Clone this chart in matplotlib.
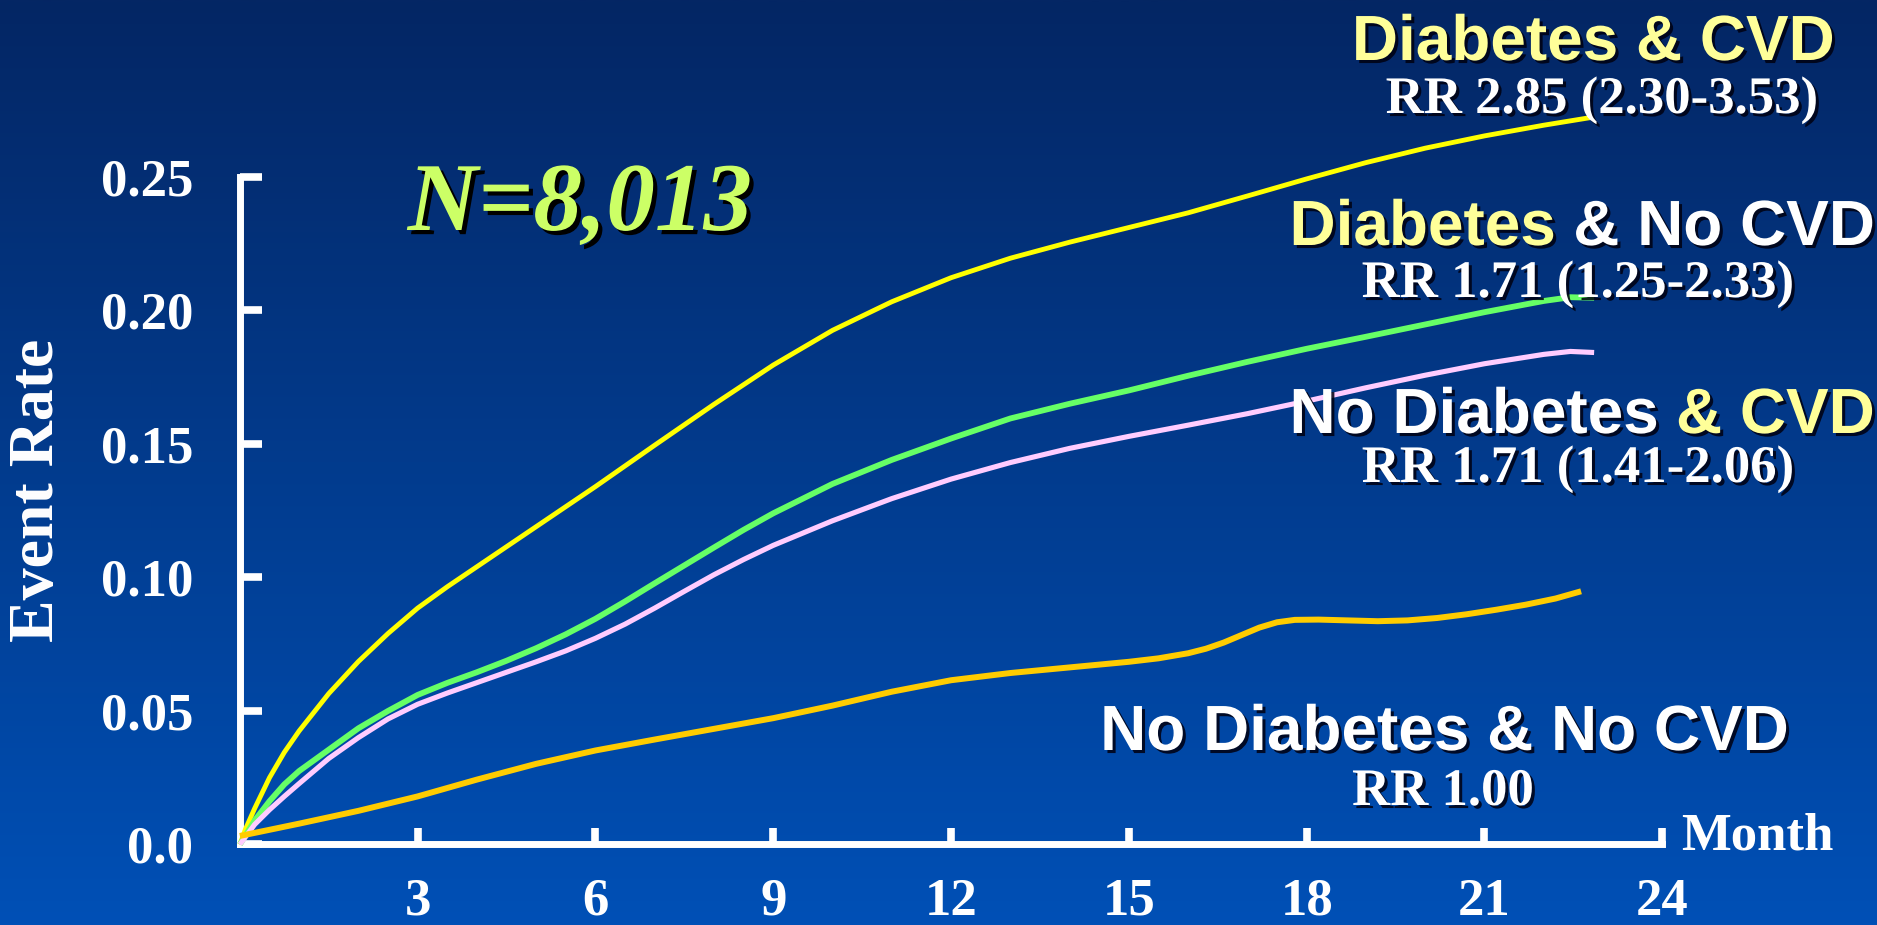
import numpy as np
import matplotlib
matplotlib.use("Agg")
import matplotlib.pyplot as plt
import matplotlib.patheffects as pe
from matplotlib.text import Annotation

W, H, DPI = 1877, 925, 100

# ---- cumulative event rate by month for each group ----
months_dm_cvd = [0, 0.1, 0.25, 0.5, 0.75, 1, 1.5, 2, 2.5, 3, 3.5, 4, 5, 6, 7, 8, 9,
                 10, 11, 12, 13, 14, 15, 16, 17, 18, 19, 20, 21, 22, 22.8]
rate_dm_cvd = [0, 0.006, 0.0135, 0.025, 0.0345, 0.0425, 0.0565, 0.0685, 0.079,
               0.0885, 0.0965, 0.104, 0.119, 0.134, 0.1495, 0.1648, 0.1795, 0.1925,
               0.2032, 0.2122, 0.2195, 0.2255, 0.231, 0.2365, 0.2428, 0.2492,
               0.2553, 0.2607, 0.2653, 0.2693, 0.2722]

months_dm = [0, 0.25, 0.5, 0.75, 1, 1.5, 2, 2.5, 3, 3.5, 4, 4.5, 5, 5.5, 6, 6.5, 7,
             7.5, 8, 8.5, 9, 10, 11, 12, 13, 14, 15, 16, 17, 18, 19, 20, 21, 22,
             22.45, 22.85]
rate_dm = [0, 0.009, 0.0162, 0.0225, 0.0275, 0.0355, 0.0435, 0.050, 0.056, 0.0605,
           0.0645, 0.0688, 0.0735, 0.0787, 0.0845, 0.091, 0.0978, 0.1045, 0.1112,
           0.1178, 0.124, 0.135, 0.144, 0.152, 0.1595, 0.165, 0.170, 0.1755,
           0.1807, 0.1856, 0.1901, 0.1947, 0.1993, 0.2035, 0.2049, 0.2047]

months_cvd = [0, 0.25, 0.5, 0.75, 1, 1.5, 2, 2.5, 3, 3.5, 4, 4.5, 5, 5.5, 6, 6.5, 7,
              7.5, 8, 8.5, 9, 10, 11, 12, 13, 14, 15, 16, 17, 18, 19, 20, 21, 22,
              22.45, 22.85]
rate_cvd = [0, 0.0075, 0.013, 0.018, 0.0228, 0.0322, 0.040, 0.047, 0.0525, 0.0567,
            0.0606, 0.0645, 0.0684, 0.0725, 0.0772, 0.0825, 0.0885, 0.0948, 0.101,
            0.1067, 0.112, 0.1212, 0.1295, 0.1368, 0.143, 0.1483, 0.1528, 0.157,
            0.1613, 0.166, 0.171, 0.1757, 0.180, 0.1835, 0.1846, 0.1842]

months_none = [0, 1, 2, 3, 4, 5, 6, 7, 8, 9, 10, 11, 12, 13, 14, 15, 15.5, 16.0,
               16.3, 16.6, 16.9, 17.2, 17.5, 17.8, 18.2, 18.7, 19.2, 19.7, 20.2,
               20.7, 21.2, 21.7, 22.2, 22.63]
rate_none = [0.0032, 0.0078, 0.0126, 0.018, 0.0243, 0.0302, 0.0352, 0.0393, 0.0433,
             0.0473, 0.052, 0.0572, 0.0615, 0.0642, 0.0663, 0.0684, 0.0697, 0.0716,
             0.0733, 0.0756, 0.0784, 0.0812, 0.0832, 0.0841, 0.0842, 0.0839,
             0.0836, 0.0839, 0.0848, 0.0862, 0.0879, 0.0898, 0.0921, 0.0948]

x_ticks = [3, 6, 9, 12, 15, 18, 21, 24]
x_ticklabels = ["3", "6", "9", "12", "15", "18", "21", "24"]
y_ticks = [0.0, 0.05, 0.10, 0.15, 0.20, 0.25]
y_ticklabels = ["0.0", "0.05", "0.10", "0.15", "0.20", "0.25"]

SERIF = "Liberation Serif"
SANS = "Liberation Sans"
PALE_YELLOW = "#FFFF99"

fig = plt.figure(figsize=(W / DPI, H / DPI), dpi=DPI)


def fx(px):
    return px / W


def fy(py):
    return 1 - py / H


# background: vertical blue gradient
bg = fig.add_axes([0, 0, 1, 1], zorder=-10)
top = np.array([4, 38, 100]) / 255
bot = np.array([0, 80, 182]) / 255
t = np.linspace(0, 1, 256)[:, None, None]
grad = top * (1 - t) + bot * t
bg.imshow(grad, aspect="auto", extent=[0, 1, 0, 1], interpolation="bilinear")
bg.set_axis_off()

# main plot area
ax = fig.add_axes([0.11199, 0.05816, 0.86835, 0.92400])
ax.set_facecolor("none")
ax.set_xlim(-0.5, 27)
ax.set_ylim(-0.01, 0.31)

line_kw = dict(solid_joinstyle="round", solid_capstyle="butt")
ax.plot(months_dm_cvd, rate_dm_cvd, color="#FFFF00", lw=3.5, zorder=3, **line_kw)
ax.plot(months_dm, rate_dm, color="#66FF66", lw=4.2, zorder=4, **line_kw)
ax.plot(months_cvd, rate_cvd, color="#FFCCFF", lw=3.7, zorder=5, **line_kw)
ax.plot(months_none, rate_none, color="#FFCC00", lw=4.3, zorder=6, **line_kw)

for side in ("top", "right"):
    ax.spines[side].set_visible(False)
for side in ("left", "bottom"):
    sp = ax.spines[side]
    sp.set_color("white")
    sp.set_linewidth(5)
    sp.set_capstyle("projecting")
    sp.set_position(("data", 0))
ax.spines["left"].set_bounds(0, 0.25)
ax.spines["bottom"].set_bounds(0, 24)

ax.set_xticks(x_ticks)
ax.set_xticklabels(x_ticklabels)
ax.set_yticks(y_ticks)
ax.set_yticklabels(y_ticklabels)
ax.tick_params(axis="x", direction="in", length=11.5, width=5.5, color="white",
               pad=24, labelcolor="white", labelsize=38)
ax.tick_params(axis="y", direction="in", length=16, width=5.5, color="white",
               pad=33.5, labelcolor="white", labelsize=38)
for lab in ax.get_xticklabels() + ax.get_yticklabels():
    lab.set_fontfamily(SERIF)
    lab.set_fontweight("bold")

# axis titles
fig.text(fx(38), fy(490), "Event Rate", rotation=90, ha="center", va="center",
         color="white", fontsize=46, fontfamily=SERIF, fontweight="bold")
fig.text(fx(1757), fy(850), "Month", ha="center", va="baseline",
         color="white", fontsize=38, fontfamily=SERIF, fontweight="bold")

# sample size
fig.text(fx(580), fy(230), "N=8,013", ha="center", va="baseline",
         color="#CCFF66", fontsize=70, fontfamily=SERIF, fontweight="bold",
         fontstyle="italic",
         path_effects=[pe.withSimplePatchShadow(offset=(3, -3),
                                                shadow_rgbFace="black", alpha=1.0)])

shadow = [pe.withSimplePatchShadow(offset=(2.2, -2.2), shadow_rgbFace="#000010",
                                   alpha=0.85)]
group_kw = dict(fontsize=46, fontfamily=SANS, fontweight="bold",
                path_effects=shadow, zorder=10)
renderer = fig.canvas.get_renderer()


def group_label(x, y, parts):
    """Centred sans-serif group name built from (text, colour) pieces."""
    full = "".join(p for p, _ in parts)
    probe = fig.text(fx(x), fy(y), full, ha="center", va="baseline", **group_kw)
    left = probe.get_window_extent(renderer).x0 / W
    probe.remove()
    prev = fig.text(left, fy(y), parts[0][0], ha="left", va="baseline",
                    color=parts[0][1], **group_kw)
    for text, color in parts[1:]:
        prev = fig.add_artist(Annotation(text, xy=(1, 0), xycoords=prev,
                                         ha="left", va="bottom", color=color,
                                         **group_kw))


def rr_label(x, y, text):
    fig.text(fx(x), fy(y), text, ha="center", va="baseline", color="white",
             fontsize=38, fontfamily=SERIF, fontweight="bold",
             path_effects=shadow, zorder=10)


group_label(1593, 60, [("Diabetes & CVD", PALE_YELLOW)])
rr_label(1602, 113, "RR 2.85 (2.30-3.53)")
group_label(1582, 245, [("Diabetes", PALE_YELLOW), (" & No CVD", "white")])
rr_label(1578, 297, "RR 1.71 (1.25-2.33)")
group_label(1582, 433, [("No Diabetes ", "white"), ("& CVD", PALE_YELLOW)])
rr_label(1578, 482, "RR 1.71 (1.41-2.06)")
group_label(1444, 750, [("No Diabetes & No CVD", "white")])
rr_label(1443, 805, "RR 1.00")

fig.savefig("out.png", dpi=DPI)
